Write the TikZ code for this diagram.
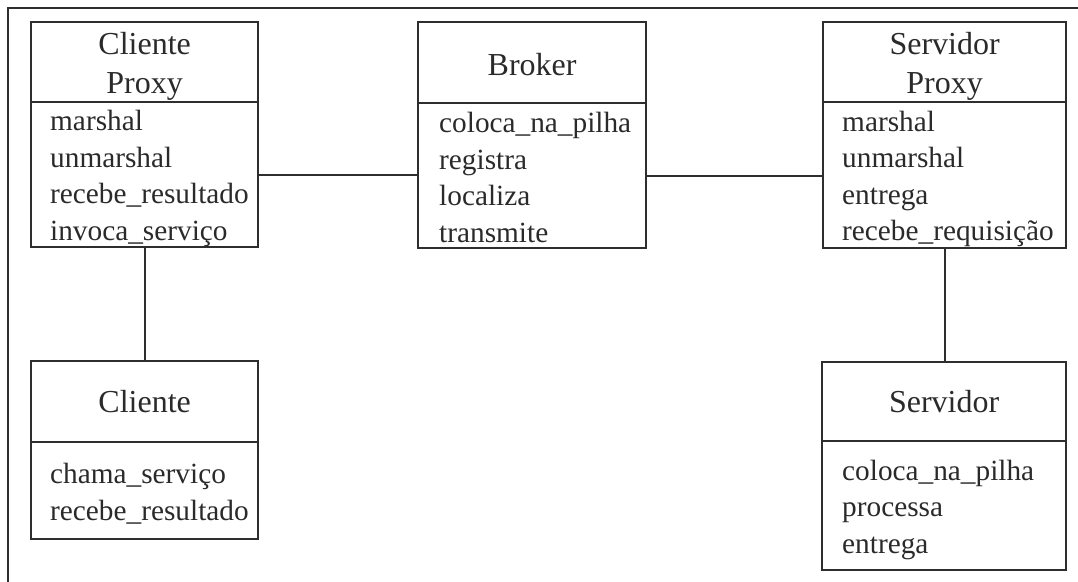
\documentclass[tikz,border=0pt]{standalone}
\usepackage{fontspec}
\setmainfont{Liberation Serif}
\definecolor{linegray}{HTML}{2E2E2E}
\definecolor{textgray}{HTML}{2A2A2A}
\begin{document}
\begin{tikzpicture}[x=1pt,y=-1pt,
  ink/.style={draw=linegray, line width=2.3pt},
  head/.style={ink, anchor=north west, inner sep=0pt},
  title/.style={inner sep=0pt, align=center, text=textgray,
    font=\fontsize{32}{38.5}\selectfont},
  body/.style={ink, anchor=north west, inner sep=0pt},
  items/.style={anchor=west, inner sep=0pt, align=left, text=textgray,
    font=\fontsize{29.3}{36.5}\selectfont},
  link/.style={draw=linegray, line width=2pt},
  frame/.style={draw=linegray, line width=1.6pt}]
\useasboundingbox (0,0) rectangle (1078,581);

% outer frame, running off the right and bottom edges
\draw[frame] (8,600) -- (8,8) -- (1100,8);

% Cliente Proxy
\node[head, minimum width=227pt, minimum height=80pt] (cph) at (30,21) {};
\node[title] (cpt) at ([yshift=-4pt]cph.center) {Cliente\\Proxy};
\node[body, minimum width=227pt, minimum height=145pt] (cpb) at (30,101) {};
\node[items] (cpl) at ([xshift=20pt,yshift=-4pt]cpb.west)
  {marshal\\unmarshal\\recebe\_resultado\\invoca\_serviço};

% Broker
\node[head, minimum width=228pt, minimum height=81pt] (bkh) at (417,21) {};
\node[title] (bkt) at ([yshift=-2pt]bkh.center) {Broker};
\node[body, minimum width=228pt, minimum height=145pt] (bkb) at (417,102) {};
\node[items] (bkl) at ([xshift=22pt,yshift=-2pt]bkb.west)
  {coloca\_na\_pilha\\registra\\localiza\\transmite};

% Servidor Proxy
\node[head, minimum width=243pt, minimum height=80pt] (sph) at (822,21) {};
\node[title] (spt) at ([yshift=-4pt]sph.center) {Servidor\\Proxy};
\node[body, minimum width=243pt, minimum height=146pt] (spb) at (822,101) {};
\node[items] (spl) at ([xshift=20pt,yshift=-4pt]spb.west)
  {marshal\\unmarshal\\entrega\\recebe\_requisição};

% Cliente
\node[head, minimum width=227pt, minimum height=81pt] (clh) at (30,360) {};
\node[title] (clt) at (clh.center) {Cliente};
\node[body, minimum width=227pt, minimum height=97pt] (clb) at (30,441) {};
\node[items] (cll) at ([xshift=20pt,yshift=-3pt]clb.west)
  {chama\_serviço\\recebe\_resultado};

% Servidor
\node[head, minimum width=244pt, minimum height=79pt] (svh) at (821,361) {};
\node[title] (svt) at (svh.center) {Servidor};
\node[body, minimum width=244pt, minimum height=129pt] (svb) at (821,440) {};
\node[items] (svl) at ([xshift=21pt,yshift=-4pt]svb.west)
  {coloca\_na\_pilha\\processa\\entrega};

% associations
\draw[link] (cpb.east) -- (cpb.east -| bkb.west);
\draw[link] (bkb.east) -- (bkb.east -| spb.west);
\draw[link] (cpb.south) -- (clh.north);
\draw[link] (spb.south) -- (spb.south |- svh.north);
\end{tikzpicture}
\end{document}
